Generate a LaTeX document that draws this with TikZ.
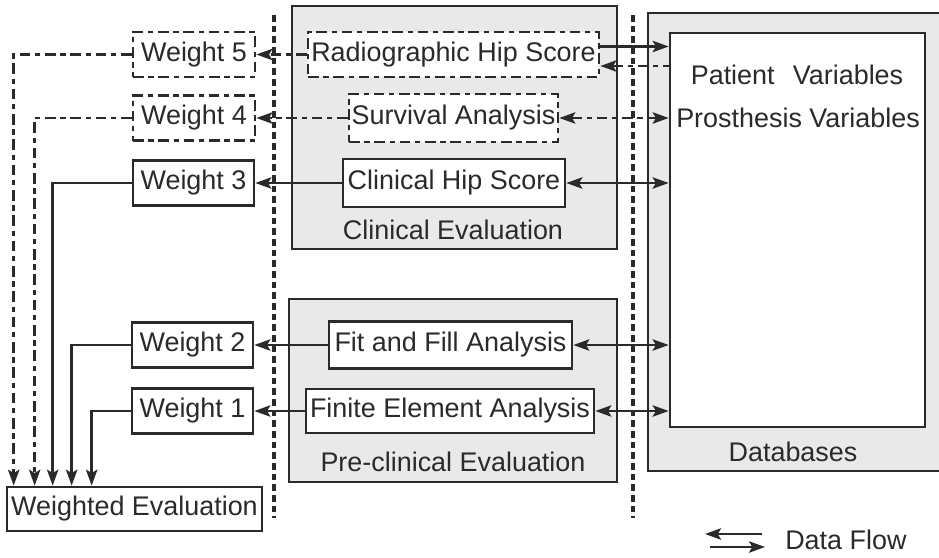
\documentclass[tikz,border=0pt]{standalone}
\usepackage{fontspec}
\setmainfont{Liberation Sans}
\usetikzlibrary{arrows.meta,calc}
\definecolor{ink}{HTML}{2A2A2A}
\definecolor{panel}{HTML}{E9E9E9}
\begin{document}
\begin{tikzpicture}[x=0.75pt,y=-0.75pt,
  font=\fontsize{20.2}{23}\selectfont,
  sz/.style 2 args={minimum width=#1*0.75pt,minimum height=#2*0.75pt},
  box/.style={draw=ink,line width=2pt,fill=white,inner sep=0pt,text=ink},
  dbox/.style={box,dash pattern=on 8pt off 3.5pt on 4pt off 3.5pt},
  panelbox/.style={draw=ink,line width=2pt,fill=panel,inner sep=0pt},
  lbl/.style={text=ink,inner sep=0pt},
  conn/.style={draw=ink,line width=1.9pt},
  dconn/.style={conn,dash pattern=on 8pt off 3.5pt on 4pt off 3.5pt},
  ahead/.tip={Stealth[length=12pt,width=8.5pt,inset=2.5pt]},
  tipr/.style={-ahead},
  tipb/.style={ahead-ahead},
  tipl/.style={ahead-},
  sep/.style={draw=ink,line width=2.4pt,dash pattern=on 5pt off 3pt}
]
\useasboundingbox (0,0) rectangle (939,557);

% separators
\draw[sep] (274,15) -- (274,518);
\draw[sep] (633,15) -- (633,518);

% panels
\node[panelbox,sz={325}{243}] (clin) at (454.5,127.5) {};
\node[panelbox,sz={328}{183}] (pre) at (453,390.5) {};
\fill[panel] (648,13) rectangle (939,471);
\draw[ink,line width=2pt] (939,13) -- (648,13) -- (648,471) -- (939,471);
\node[box,sz={255}{394}] (db) at (797.5,230) {};

% panel labels
\node[lbl] (clinlbl) at (453,230) {Clinical Evaluation};
\node[lbl] (prelbl) at (453,462) {Pre-clinical Evaluation};
\node[lbl] (patv) at (797,75) {Patient\hspace{0.4em} Variables};
\node[lbl] (prosv) at (798,118) {Prosthesis Variables};
\node[lbl] (dblbl) at (793,452) {Databases};

% evaluation boxes
\node[dbox,sz={291}{45}] (rhs) at (453.5,54.5) {Radiographic Hip Score};
\node[dbox,sz={209}{48}] (surv) at (453.5,118) {Survival Analysis};
\node[box,sz={222}{48}] (chs) at (454,183) {Clinical Hip Score};
\node[box,sz={243}{47}] (faf) at (450.5,345) {Fit and Fill Analysis};
\node[box,sz={288}{44}] (fea) at (450,411) {Finite Element Analysis};

% weights
\node[dbox,sz={122}{45}] (w5) at (194,54.5) {Weight 5};
\node[dbox,sz={122}{45}] (w4) at (194,118) {Weight 4};
\node[box,sz={121}{45}] (w3) at (193.5,183) {Weight 3};
\node[box,sz={121}{45}] (w2) at (192.5,345) {Weight 2};
\node[box,sz={121}{45}] (w1) at (192.5,411) {Weight 1};
\node[box,sz={255}{44}] (we) at (134.5,509) {Weighted Evaluation};

% evaluation -> weights
\draw[dconn,tipr] (rhs.west) -- (w5.east);
\draw[dconn,tipr] (surv.west) -- (w4.east);
\draw[conn,tipr] (chs.west) -- (w3.east);
\draw[conn,tipr] (faf.west) -- (w2.east);
\draw[conn,tipr] (fea.west) -- (w1.east);

% evaluation <-> databases
\draw[conn,tipr] ($(rhs.east)+(0,-8)$) coordinate (r1) -- (r1 -| db.west);
\draw[dconn,tipl] ($(rhs.east)+(0,11.5)$) coordinate (r2) -- (r2 -| db.west);
\draw[dconn,tipb] (surv.east) -- (surv.east -| db.west);
\draw[conn,tipb] (chs.east) -- (chs.east -| db.west);
\draw[conn,tipb] (faf.east) -- (faf.east -| db.west);
\draw[conn,tipb] (fea.east) -- (fea.east -| db.west);

% weights -> weighted evaluation
\draw[dconn,tipr] (w5.west) -| ($(we.north west)+(8,0)$);
\draw[dconn,tipr] (w4.west) -| ($(we.north west)+(29,0)$);
\draw[conn,tipr] (w3.west) -| ($(we.north west)+(47,0)$);
\draw[conn,tipr] (w2.west) -| ($(we.north west)+(66,0)$);
\draw[conn,tipr] (w1.west) -| ($(we.north west)+(86,0)$);

% legend
\coordinate (la1) at (705,534);
\coordinate (la2) at (762,534);
\coordinate (lb1) at (710,547);
\coordinate (lb2) at (765,547);
\draw[conn,tipl] (la1) -- (la2);
\draw[conn,tipr] (lb1) -- (lb2);
\node[lbl,anchor=west] (legend) at (785,540) {Data Flow};
\end{tikzpicture}
\end{document}
